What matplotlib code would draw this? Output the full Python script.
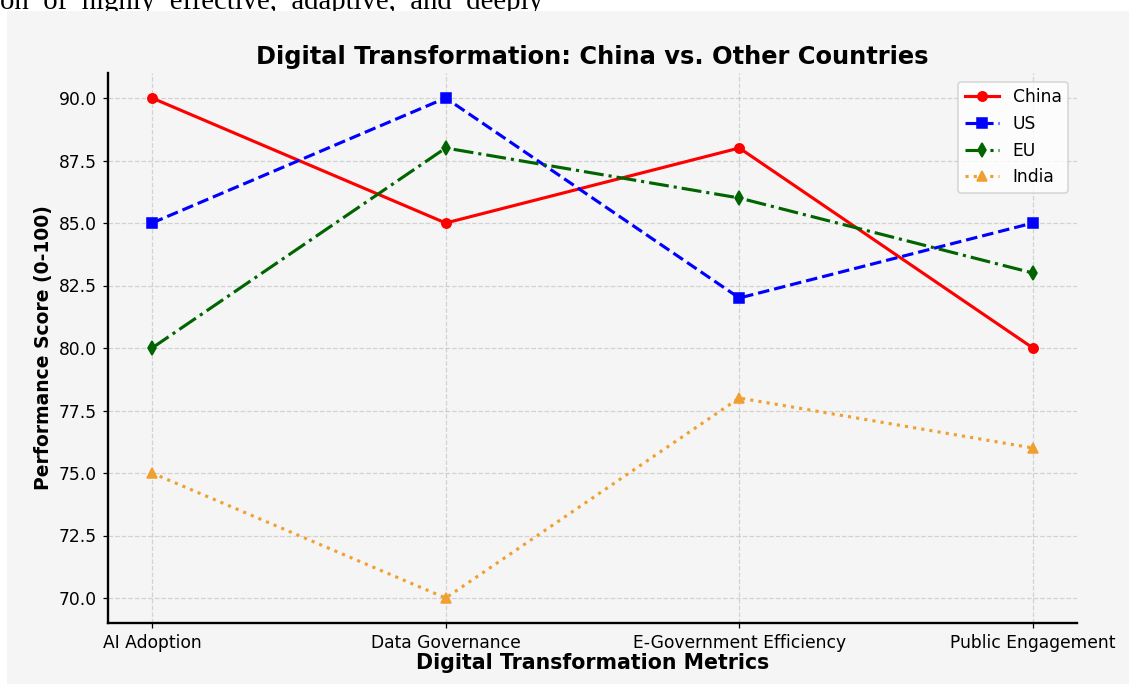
import matplotlib
matplotlib.use("Agg")
import matplotlib.pyplot as plt
from matplotlib.patches import Rectangle

metrics = ["AI Adoption", "Data Governance", "E-Government Efficiency", "Public Engagement"]
china = [90, 85, 88, 80]
us = [85, 90, 82, 85]
eu = [80, 88, 86, 83]
india = [75, 70, 78, 76]

W, H = 1135, 684
dpi = 112.2
fig = plt.figure(figsize=(W / dpi, H / dpi), dpi=dpi, facecolor="white")

# grey screenshot area of the embedded chart
bg = "#f5f5f5"
fig.patches.append(Rectangle((7 / W, 0), 1122 / W, 1 - 11 / H, transform=fig.transFigure,
                             facecolor=bg, edgecolor="none", zorder=-10))

# cut-off line of document text above the chart
fig.text(0, 1 - 9 / H, "on  of  highly  effective,  adaptive,  and  deeply",
         family="Liberation Serif", fontsize=18.5, va="baseline", ha="left", zorder=-20)

ax = fig.add_axes([108 / W, 1 - 623 / H, (1077 - 108) / W, (623 - 73) / H])
ax.set_facecolor(bg)

ax.plot(metrics, china, color="red", linestyle="-", marker="o", linewidth=2, label="China")
ax.plot(metrics, us, color="blue", linestyle="--", marker="s", linewidth=2, label="US")
ax.plot(metrics, eu, color="darkgreen", linestyle="-.", marker="d", linewidth=2, label="EU")
ax.plot(metrics, india, color="#f0a030", linestyle=":", marker="^", linewidth=2, label="India")

ax.set_title("Digital Transformation: China vs. Other Countries", fontsize=15.5, fontweight="bold")
ax.set_xlabel("Digital Transformation Metrics", fontsize=13.2, fontweight="bold", labelpad=1)
ax.set_ylabel("Performance Score (0-100)", fontsize=12, fontweight="bold")
ax.tick_params(labelsize=11)

ax.spines["top"].set_visible(False)
ax.spines["right"].set_visible(False)
ax.spines["left"].set_linewidth(1.5)
ax.spines["bottom"].set_linewidth(1.5)
ax.grid(True, linestyle="--", alpha=0.5)

leg = ax.legend(loc="upper right", fontsize=11, facecolor="white", framealpha=0.8)

fig.savefig("out.png", dpi=dpi, facecolor="white")
